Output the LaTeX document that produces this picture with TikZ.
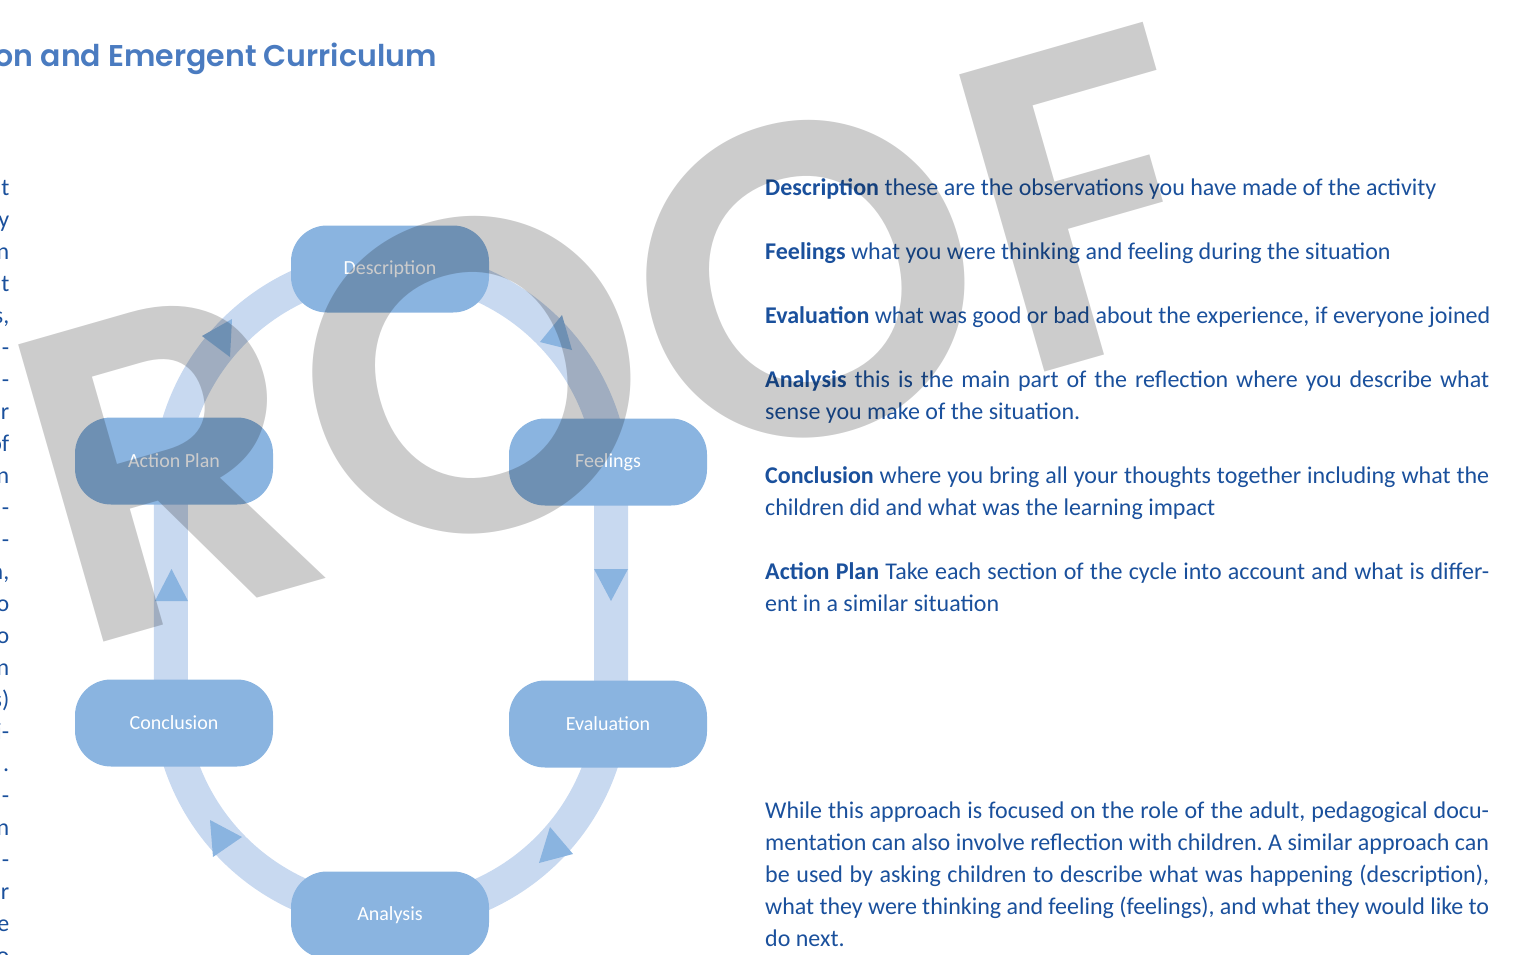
\documentclass[tikz,border=0pt]{standalone}
\usepackage{fontspec}
\setmainfont{Carlito}
\newfontfamily\popsb{Poppins SemiBold}
\definecolor{bodyblue}{RGB}{26,80,156}
\definecolor{titleblue}{RGB}{74,123,192}
\definecolor{nodeblue}{RGB}{138,180,224}
\definecolor{ringblue}{RGB}{200,217,240}
\newcommand{\jline}[1]{\hbox to 724pt{#1}}
\frenchspacing
\begin{document}
\begin{tikzpicture}[x=1pt,y=-1pt,
  stage/.style={fill=nodeblue, rounded corners=36pt, minimum width=198pt,
    minimum height=87pt, inner sep=0pt, text=white,
    font=\fontsize{20}{24}\selectfont},
  bodytext/.style={anchor=base west, inner sep=0pt, text=bodyblue,
    font=\fontsize{24}{32}\selectfont},
  margintext/.style={anchor=base east, inner sep=0pt, text=bodyblue,
    font=\fontsize{24}{32}\selectfont},
  tri/.style={fill=nodeblue}]
\path[use as bounding box, clip] (0,0) rectangle (1513,955);

% page heading, running off the left edge
\node[anchor=base east, inner sep=0pt, text=titleblue,
  font=\popsb\fontsize{30}{36}\selectfont] (title) at (437,67)
  {on and Emergent Curriculum};

% ends of the neighbouring column's lines
\foreach \t [count=\i] in {t,y,n,t,{s,},-,-,r,of,n,-,-,{n,},o,o,n,s),i-,.,-,n,-,r,e,o}
  \node[margintext] (m\i) at (9.5,{195+32*(\i-1)}) {\t};

% the cycle's ring
\coordinate (r1) at (171,459);
\coordinate (r2) at (611,721);
\draw[ringblue, line width=34pt]
  (r1) arc[start angle=187.5, end angle=352.5, radius=222]
  -- (r2) arc[start angle=7.5, end angle=172.5, radius=222] -- cycle;

% direction marks on the ring
\fill[tri] (202,336) -- (232,319) -- (230,357) -- cycle;
\fill[tri] (540,342) -- (562,315) -- (572,350) -- cycle;
\fill[tri] (594,569) -- (628,569) -- (611,601) -- cycle;
\fill[tri] (550,827) -- (573,854) -- (539,863) -- cycle;
\fill[tri] (210,820) -- (242,837) -- (213,857) -- cycle;
\fill[tri] (155,601) -- (188,601) -- (171.5,569) -- cycle;

% stages
\node[stage] (desc) at (390,269) {Description};
\node[stage] (feel) at (608,462) {Feelings};
\node[stage] (eval) at (608,724) {Evaluation};
\node[stage] (anal) at (390,915) {Analysis};
\node[stage] (conc) at (174,723) {Conclusion};
\node[stage] (act)  at (174,461) {Action Plan};

% explanations
\node[bodytext] (t1) at (765,195) {\textbf{Description} these are the observations you have made of the activity};
\node[bodytext] (t2) at (765,259) {\textbf{Feelings} what you were thinking and feeling during the situation};
\node[bodytext] (t3) at (765,323) {\textbf{Evaluation} what was good or bad about the experience, if everyone joined};
\node[bodytext] (t4) at (765,387) {\jline{\textbf{Analysis} this is the main part of the reflection where you describe what}};
\node[bodytext] (t5) at (765,419) {sense you make of the situation.};
\node[bodytext] (t6) at (765,483) {\jline{\textbf{Conclusion} where you bring all your thoughts together including what the}};
\node[bodytext] (t7) at (765,515) {children did and what was the learning impact};
\node[bodytext] (t8) at (765,579) {\jline{\textbf{Action Plan} Take each section of the cycle into account and what is differ-}};
\node[bodytext] (t9) at (765,611) {ent in a similar situation};
\node[bodytext] (p1) at (765,818) {\jline{While this approach is focused on the role of the adult, pedagogical docu-}};
\node[bodytext] (p2) at (765,850) {\jline{mentation can also involve reflection with children. A similar approach can}};
\node[bodytext] (p3) at (765,882) {\jline{be used by asking children to describe what was happening (description),}};
\node[bodytext] (p4) at (765,914) {\jline{what they were thinking and feeling (feelings), and what they would like to}};
\node[bodytext] (p5) at (765,946) {do next.};

% proof stamp
\node[anchor=base west, inner sep=0pt, rotate=16, text=black, text opacity=0.2,
  font=\popsb\fontsize{443}{443}\selectfont] (stamp) at (74,651) {ROOF};
\end{tikzpicture}
\end{document}
